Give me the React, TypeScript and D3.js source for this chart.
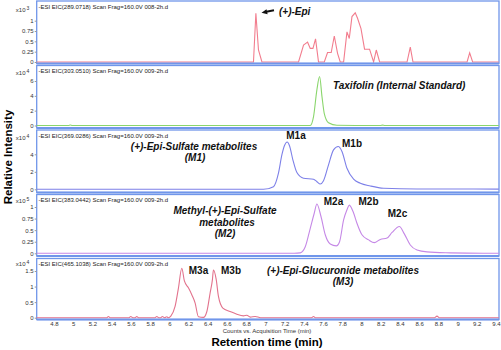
import React, { useEffect, useRef } from 'react';
import * as d3 from 'd3';

// retention time (min), intensity in units of the panel multiplier
const epiData: [number, number][] = [
  [4.62, 0], [6.876, 0], [6.901, 1.18], [6.928, 0.29], [6.964, 0], [7.345, 0], [7.397, 0.41], [7.439, 0.48],
  [7.467, 0.33], [7.495, 0.33], [7.522, 0.56], [7.553, 0], [7.613, 0], [7.647, 0.23], [7.685, 0.23], [7.717, 0.63],
  [7.751, 0.21], [7.779, 0], [7.814, 0], [7.849, 0.73], [7.873, 0.57], [7.901, 1.1], [7.935, 1.19], [7.959, 1.06],
  [7.995, 0.81], [8.032, 0.31], [8.084, 0.31], [8.126, 0], [8.154, 0.29], [8.189, 0], [8.474, 0], [8.508, 0.36],
  [8.536, 0], [9.099, 0], [9.126, 0.22], [9.157, 0], [9.43, 0]
];
const taxifolinData: [number, number][] = [
  [4.62, 0], [4.95, 0], [4.97, 0.06], [4.99, 0], [7.467, 0], [7.501, 1.19], [7.536, 4.8], [7.564, 6.6], [7.589, 3.9],
  [7.613, 1.6], [7.657, 0.38], [7.745, 0.03], [8.2, 0], [8.22, 0.05], [8.24, 0], [9.43, 0]
];
const m1Data: [number, number][] = [
  [4.62, 0], [6.98, 0], [7.084, 0.3], [7.136, 1.84], [7.172, 3.95], [7.199, 5.0], [7.226, 5.4], [7.251, 4.98],
  [7.286, 3.37], [7.328, 1.91], [7.397, 1.26], [7.501, 1.15], [7.536, 0.87], [7.571, 0.61], [7.605, 0.99],
  [7.657, 2.8], [7.709, 4.5], [7.758, 4.9], [7.797, 4.33], [7.849, 2.41], [7.918, 1.15], [7.988, 0.69],
  [8.092, 0.38], [8.23, 0.12], [8.578, 0.03], [9.0, 0.04], [9.43, 0.02]
];
const m2Data: [number, number][] = [
  [4.62, 0], [7.3, 0], [7.363, 0.01], [7.415, 0.14], [7.467, 0.54], [7.509, 0.87], [7.536, 1.065], [7.578, 0.8],
  [7.623, 0.4], [7.675, 0.2], [7.738, 0.16], [7.772, 0.25], [7.814, 0.72], [7.849, 0.94], [7.873, 1.04],
  [7.918, 0.87], [7.953, 0.65], [8.005, 0.4], [8.074, 0.29], [8.133, 0.23], [8.196, 0.3], [8.266, 0.33],
  [8.318, 0.45], [8.394, 0.58], [8.446, 0.42], [8.508, 0.18], [8.578, 0.07], [8.682, 0.03], [8.925, 0.01],
  [9.269, 0], [9.43, 0]
];
const m3Data: [number, number][] = [
  [4.62, 0], [5.35, 0], [5.366, 0.04], [5.385, 0], [5.58, 0], [5.599, 0.04], [5.62, 0], [5.645, 0], [5.661, 0.04],
  [5.68, 0], [5.85, 0], [5.87, 0.04], [5.89, 0], [5.91, 0], [5.928, 0.04], [5.95, 0], [5.974, 0.03], [5.99, 0],
  [6.016, 0.05], [6.06, 0.36], [6.095, 0.95], [6.13, 1.59], [6.157, 1.18], [6.199, 0.96], [6.234, 0.74],
  [6.269, 0.47], [6.303, 0.03], [6.355, 0.01], [6.391, 0.2], [6.425, 0.8], [6.449, 1.23], [6.459, 1.53],
  [6.488, 1.23], [6.511, 0.69], [6.557, 0.31], [6.633, 0.2], [6.703, 0.11], [6.772, 0.06], [6.807, 0.08],
  [6.842, 0.02], [6.894, 0.04], [6.95, 0], [7.48, 0], [7.501, 0.04], [7.52, 0], [8.76, 0], [8.786, 0.05],
  [8.81, 0], [9.43, 0]
];

const xTicks = [4.8, 5, 5.2, 5.4, 5.6, 5.8, 6, 6.2, 6.4, 6.6, 6.8, 7, 7.2, 7.4, 7.6, 7.8, 8, 8.2, 8.4, 8.6, 8.8, 9, 9.2, 9.4];
const headers = [
  '-ESI EIC(289.0718) Scan Frag=160.0V 008-2h.d',
  '-ESI EIC(303.0510) Scan Frag=160.0V 009-2h.d',
  '-ESI EIC(369.0286) Scan Frag=160.0V 009-2h.d',
  '-ESI EIC(383.0442) Scan Frag=160.0V 009-2h.d',
  '-ESI EIC(465.1038) Scan Frag=160.0V 009-2h.d'
];
const exponents = ['3', '4', '4', '5', '4'];
const yTicks = [
  [0, 0.25, 0.5, 0.75, 1],
  [0, 2, 4, 6],
  [0, 2, 4],
  [0, 0.25, 0.5, 0.75, 1],
  [0, 0.5, 1, 1.5]
];
const series = [epiData, taxifolinData, m1Data, m2Data, m3Data];
const colors = ['#f27d8e', '#8ad66c', '#7d80e8', '#c588e6', '#e2728c'];

const FONT = '"Liberation Sans", Arial, sans-serif';

function Chromatograms() {
  const ref = useRef<SVGSVGElement>(null);

  useEffect(() => {
    const svg = d3.select(ref.current);
    svg.selectAll('*').remove();

    const left = 36.7, right = 499;
    const x = d3.scaleLinear().domain([4.8, 9.4]).range([54, 496]);

    // panel frames and the reference tick used to set each y scale
    const tops = [1, 65.5, 130, 194.5, 258.5];
    const bottoms = [63.5, 128, 192.5, 256, 319.5];
    const zeros = [62, 125.5, 189.3, 253.3, 317.7];
    const refTick = [1, 6, 4, 1, 1.5];
    const refY = [20.7, 81, 154.3, 207, 271];
    const expY = [10, 73, 138, 201, 264];

    series.forEach((data, i) => {
      const g = svg.append('g');
      const y = d3.scaleLinear().domain([0, refTick[i]]).range([zeros[i], refY[i]]);

      g.append('rect')
        .attr('x', left).attr('y', tops[i])
        .attr('width', right - left).attr('height', bottoms[i] - tops[i])
        .attr('fill', '#fff')
        .attr('stroke', '#7096ea').attr('stroke-width', 1.3);

      const line = d3.line<[number, number]>()
        .x(d => x(d[0]))
        .y(d => y(d[1]))
        .curve(i === 0 ? d3.curveLinear : d3.curveMonotoneX);

      g.append('path')
        .datum(data)
        .attr('d', line)
        .attr('fill', 'none')
        .attr('stroke', colors[i])
        .attr('stroke-width', 1.1);

      g.append('line')
        .attr('x1', left).attr('x2', right)
        .attr('y1', bottoms[i]).attr('y2', bottoms[i])
        .attr('stroke', '#7096ea').attr('stroke-width', 2);

      const yAxis = d3.axisLeft(y).tickValues(yTicks[i]).tickSize(2).tickPadding(1)
        .tickFormat(d3.format('~g') as any);
      const ay = g.append('g').attr('transform', `translate(${left},0)`).call(yAxis);
      ay.select('.domain').remove();
      ay.selectAll('line').attr('stroke', '#999');
      ay.selectAll('text').attr('font-family', FONT).attr('font-size', 6).attr('fill', '#333');

      g.append('text')
        .attr('x', 38.5).attr('y', tops[i] + 5.5)
        .attr('dominant-baseline', 'central')
        .attr('font-family', FONT).attr('font-size', 6).attr('fill', '#222')
        .text(headers[i]);

      g.append('text')
        .attr('x', 25.5).attr('y', expY[i] + 2)
        .attr('text-anchor', 'end')
        .attr('font-family', FONT).attr('font-size', 6).attr('fill', '#333')
        .text('x10');
      g.append('text')
        .attr('x', 26.5).attr('y', expY[i])
        .attr('font-family', FONT).attr('font-size', 5).attr('fill', '#333')
        .text(exponents[i]);
    });

    // x axis under the last panel
    const xAxis = d3.axisBottom(x).tickValues(xTicks).tickSize(0).tickPadding(2)
      .tickFormat(d3.format('~g') as any);
    const ax = svg.append('g').attr('transform', `translate(0,${bottoms[4]})`).call(xAxis);
    ax.select('.domain').remove();
    ax.selectAll('text').attr('font-family', FONT).attr('font-size', 6).attr('fill', '#333');

    svg.append('text')
      .attr('x', 267).attr('y', 330.8)
      .attr('text-anchor', 'middle').attr('dominant-baseline', 'central')
      .attr('font-family', FONT).attr('font-size', 6).attr('fill', '#333')
      .text('Counts vs. Acquisition Time (min)');

    svg.append('text')
      .attr('x', 267).attr('y', 342)
      .attr('text-anchor', 'middle').attr('dominant-baseline', 'central')
      .attr('font-family', FONT).attr('font-size', 11.5).attr('font-weight', 'bold')
      .text('Retention time (min)');

    svg.append('text')
      .attr('transform', 'translate(8,157) rotate(-90)')
      .attr('text-anchor', 'middle').attr('dominant-baseline', 'central')
      .attr('font-family', FONT).attr('font-size', 11.5).attr('font-weight', 'bold')
      .text('Relative Intensity');

    // annotations
    const notes: [string, number, number, boolean, string][] = [
      ['(+)-Epi', 279, 11, true, 'start'],
      ['Taxifolin (Internal Standard)', 333, 85, true, 'start'],
      ['(+)-Epi-Sulfate metabolites', 194, 146, true, 'middle'],
      ['(M1)', 195, 157, true, 'middle'],
      ['M1a', 296, 135, false, 'middle'],
      ['M1b', 352, 143, false, 'middle'],
      ['Methyl-(+)-Epi-Sulfate', 225, 210, true, 'middle'],
      ['metabolites', 227, 222, true, 'middle'],
      ['(M2)', 225, 233, true, 'middle'],
      ['M2a', 333.5, 201, false, 'middle'],
      ['M2b', 368.5, 201, false, 'middle'],
      ['M2c', 397.5, 213, false, 'middle'],
      ['(+)-Epi-Glucuronide metabolites', 343, 270, true, 'middle'],
      ['(M3)', 343, 281, true, 'middle'],
      ['M3a', 198.5, 270, false, 'middle'],
      ['M3b', 231, 270, false, 'middle']
    ];
    svg.append('g').selectAll('text')
      .data(notes)
      .enter()
      .append('text')
      .attr('x', d => d[1]).attr('y', d => d[2])
      .attr('text-anchor', d => d[4])
      .attr('dominant-baseline', 'central')
      .attr('font-family', FONT).attr('font-size', 10).attr('font-weight', 'bold')
      .attr('font-style', d => (d[3] ? 'italic' : 'normal'))
      .attr('fill', '#111')
      .text(d => d[0]);

    // arrow pointing at the (+)-Epi peak
    svg.append('line')
      .attr('x1', 274).attr('y1', 10.2).attr('x2', 265).attr('y2', 12)
      .attr('stroke', '#111').attr('stroke-width', 2);
    svg.append('path')
      .attr('d', 'M261.5,12.8 L266.5,9.2 L267.6,14.3 Z')
      .attr('fill', '#111');
  }, []);

  return (
    <svg ref={ref} width={501} height={350}
      style={{ position: 'absolute', left: 0, top: 0, background: '#fff' }} />
  );
}

export default function App() {
  return <Chromatograms />;
}
